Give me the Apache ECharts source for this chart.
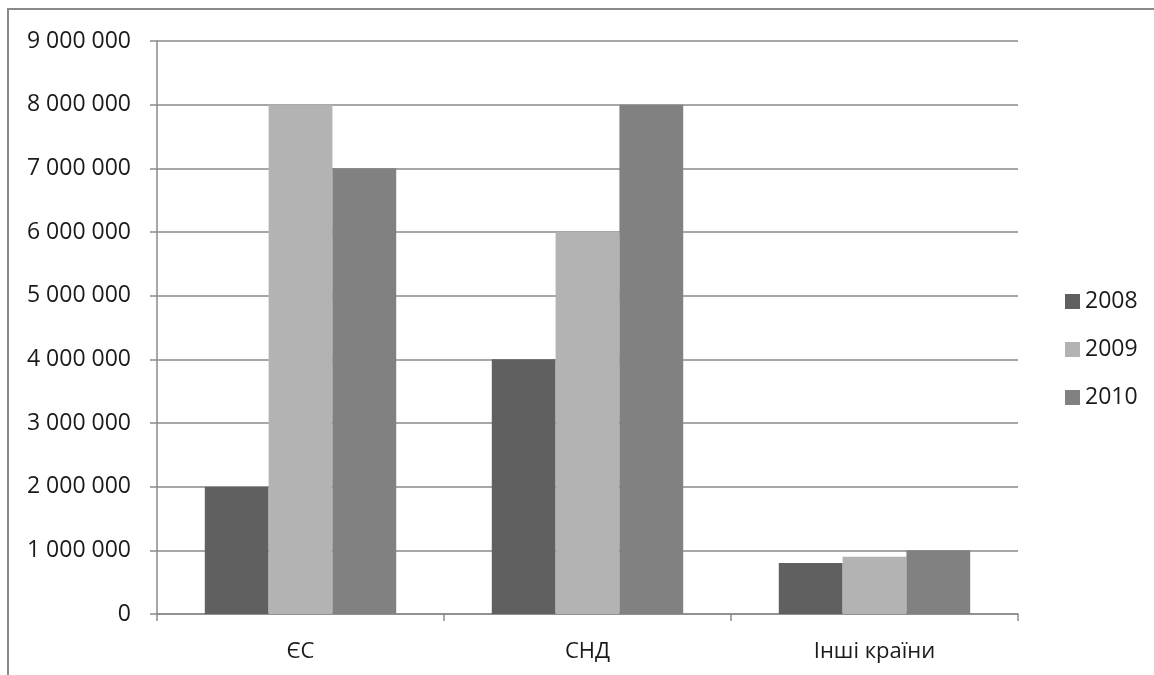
<!DOCTYPE html>
<html>
<head>
<meta charset="utf-8">
<script src="https://cdn.jsdelivr.net/npm/echarts@6/dist/echarts.min.js"></script>
<style>
  html, body { margin: 0; padding: 0; background: #fff; }
  #chart { width: 1154px; height: 675px; }
</style>
</head>
<body>
<div id="chart"></div>
<script>
// Regions and yearly values
const categories = ['ЄС', 'СНД', 'Інші країни'];
const years = ['2008', '2009', '2010'];
const values2008 = [2000000, 4000000, 800000];
const values2009 = [8000000, 6000000, 900000];
const values2010 = [7000000, 8000000, 1000000];
const yearColors = ['#606060', '#b3b3b3', '#818181'];

const seriesValues = [values2008, values2009, values2010];
const FONT = '"Open Sans", "Noto Sans", sans-serif';
const TEXT_COLOR = '#1a1a1a';

// Group digits with spaces: 9000000 -> "9 000 000"
function fmt(v) {
  return String(v).replace(/\B(?=(\d{3})+(?!\d))/g, ' ');
}

const chart = echarts.init(document.getElementById('chart'), null, { renderer: 'canvas' });

chart.setOption({
  animation: false,
  backgroundColor: '#ffffff',
  textStyle: { fontFamily: FONT },
  graphic: [{
    type: 'rect',
    shape: { x: 8, y: 9, width: 1300, height: 800 },
    style: { fill: 'none', stroke: '#8a8a8a', lineWidth: 2 },
    silent: true
  }],
  grid: { left: 157, right: 136, top: 41, bottom: 61 },
  legend: {
    orient: 'vertical',
    left: 1060,
    top: 285,
    itemWidth: 15,
    itemHeight: 15,
    itemGap: 25,
    icon: 'rect',
    data: years,
    textStyle: { fontFamily: FONT, fontSize: 23, color: TEXT_COLOR, lineHeight: 23 }
  },
  xAxis: {
    type: 'category',
    data: categories,
    axisLine: { show: true, lineStyle: { color: '#8a8a8a', width: 1.5 } },
    axisTick: { show: true, length: 7, alignWithLabel: false, lineStyle: { color: '#8a8a8a', width: 1.5 } },
    axisLabel: { fontFamily: FONT, fontSize: 22, color: TEXT_COLOR, margin: 27 }
  },
  yAxis: {
    type: 'value',
    min: 0,
    max: 9000000,
    interval: 1000000,
    axisLine: { show: true, lineStyle: { color: '#8a8a8a', width: 1.5 } },
    axisTick: { show: true, length: 7, lineStyle: { color: '#8a8a8a', width: 1.5 } },
    splitLine: { show: true, lineStyle: { color: '#8a8a8a', width: 1.5 } },
    axisLabel: { fontFamily: FONT, fontSize: 23, color: TEXT_COLOR, margin: 26, formatter: fmt }
  },
  series: years.map((y, i) => ({
    name: y,
    type: 'bar',
    data: seriesValues[i],
    barGap: '0%',
    barCategoryGap: '33.3%',
    itemStyle: { color: yearColors[i] }
  }))
});
</script>
</body>
</html>
